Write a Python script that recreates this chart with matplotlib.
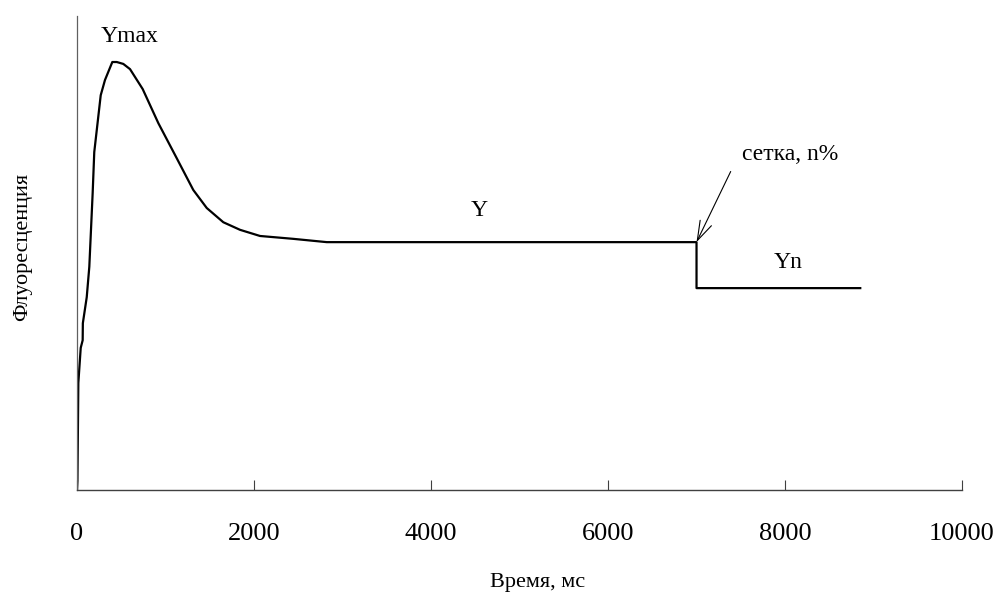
import matplotlib
matplotlib.use("Agg")
import matplotlib.pyplot as plt

plt.rcParams['font.family'] = ['Liberation Serif', 'DejaVu Serif']

# Data
time_ms = [0, 5, 15, 42, 64, 66, 110, 139, 177, 195, 268, 316, 399, 449, 523, 599,
           742, 919, 1127, 1314, 1466, 1653, 1842, 2068, 2441, 2822, 7000, 7000, 8850]
fluor = [0.0, 0.02, 0.226, 0.30, 0.316, 0.352, 0.407, 0.471, 0.627, 0.713, 0.833, 0.865,
         0.903, 0.903, 0.899, 0.888, 0.846, 0.774, 0.700, 0.633, 0.595, 0.565, 0.549,
         0.536, 0.530, 0.523, 0.523, 0.426, 0.426]
x_ticks = [0, 2000, 4000, 6000, 8000, 10000]

fig = plt.figure(figsize=(10.04, 5.94), dpi=100)
ax = fig.add_axes([0.0767, 0.175, 0.8815, 0.798])

ax.plot(time_ms, fluor, color='black', lw=1.6, solid_joinstyle='round')

ax.set_xlim(0, 10000)
ax.set_ylim(0, 1)
ax.set_xticks(x_ticks)
ax.set_xticklabels([str(t) for t in x_ticks])
ax.set_yticks([])

for s in ['top', 'right']:
    ax.spines[s].set_visible(False)
ax.spines['left'].set_color('#606060')
ax.spines['left'].set_linewidth(0.9)
ax.spines['bottom'].set_color('#404040')
ax.spines['bottom'].set_linewidth(1.0)

ax.tick_params(axis='x', direction='in', length=7.5, width=0.8, color='#404040',
               labelsize=19, pad=24)

ax.set_xlabel('Время, мс', fontsize=16)
ax.xaxis.set_label_coords(0.520, -0.196)
ax.xaxis.label.set_va('center')
ax.set_ylabel('Флуоресценция', fontsize=16)
ax.yaxis.set_label_coords(-0.0610, 0.513)
ax.yaxis.label.set_va('center')
ax.yaxis.label.set_ha('center')

ax.text(600, 0.956, 'Ymax', fontsize=17, ha='center', va='center')
ax.text(4550, 0.590, 'Y', fontsize=17, ha='center', va='center')
ax.text(8030, 0.480, 'Yn', fontsize=17, ha='center', va='center')
ax.text(8056, 0.707, 'сетка, n%', fontsize=17, ha='center', va='center')
ax.annotate('', xy=(7000, 0.523), xytext=(7386, 0.672),
            arrowprops=dict(arrowstyle='->,head_length=1.4,head_width=0.45',
                            lw=0.8, color='black', shrinkA=0, shrinkB=0))

fig.savefig('out.png', dpi=100)
